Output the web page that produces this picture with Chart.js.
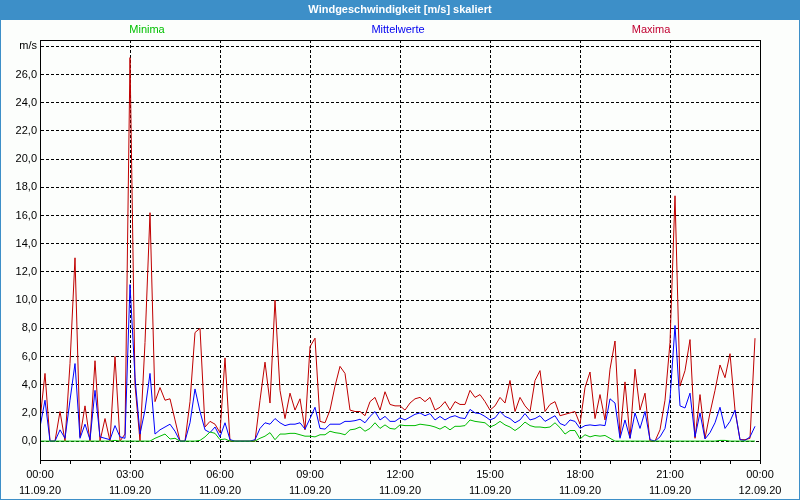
<!DOCTYPE html>
<html>
<head>
<meta charset="utf-8">
<script src="https://cdn.jsdelivr.net/npm/chart.js@4"></script>
<style>
    html, body { margin: 0; padding: 0; background: #fff; }
    #wrap { width: 800px; height: 500px; }
</style>
</head>
<body>
<div id="wrap"><canvas id="chart" width="800" height="500"></canvas></div>
<script>
// 10-minute values, 11.09.20 00:00 - 23:50
const stepMinutes = 10;

const minima = [
    0, 0, 0, 0, 0, 0, 0, 0, 0, 0,
    0, 0, 0, 0, 0, 0.05, 0, 0, 0, 0,
    0, 0, 0, 0.2, 0.35, 0.5, 0.15, 0.2, 0, 0,
    0, 0, 0.05, 0.3, 0.65, 0.55, 0.1, 0.15, 0, 0,
    0, 0, 0, 0, 0.2, 0.35, 0.6, 0.1, 0.5, 0.5,
    0.55, 0.55, 0.45, 0.35, 0.35, 0.3, 0.45, 0.45, 0.7, 0.6,
    0.55, 0.45, 0.8, 0.85, 1.0, 0.7, 0.9, 1.3, 0.9, 1.15,
    0.9, 0.85, 1.15, 1.1, 1.1, 1.1, 1.2, 1.15, 1.1, 1.0,
    0.85, 1.05, 0.8, 1.05, 1.05, 1.1, 1.5, 1.4, 1.35, 1.3,
    1.0, 1.15, 1.4, 1.15, 1.0, 0.75, 1.0, 1.35, 1.1, 1.0,
    1.0, 0.95, 1.0, 1.3, 0.95, 0.5, 0.75, 0.75, 0.15, 0.45,
    0.3, 0.4, 0.35, 0.4, 0.2, 0, 0, 0, 0, 0,
    0, 0, 0, 0, 0, 0, 0, 0, 0, 0,
    0, 0, 0, 0, 0, 0, 0.05, 0.05, 0, 0,
    0, 0, 0, 0
];

const mittelwerte = [
    1.0, 2.9, 0, 0, 0.8, 0.2, 2.9, 5.5, 0.2, 1.2,
    0.1, 3.6, 0.3, 0.2, 0.1, 1.1, 0.3, 0.2, 11.1, 4.5,
    0.5, 2.2, 4.8, 0.5, 0.8, 1.0, 1.2, 0.7, 0, 0,
    1.3, 3.7, 2.1, 0.8, 0.6, 1.0, 0.3, 1.3, 0.1, 0,
    0, 0, 0, 0.1, 0.9, 1.3, 1.2, 1.6, 1.3, 1.1,
    1.2, 1.2, 1.3, 0.85, 1.6, 2.4, 0.9, 0.85, 1.2, 1.2,
    1.2, 1.4, 1.4, 1.45, 1.55, 1.3, 1.75, 2.1, 1.5, 1.75,
    1.4, 1.4, 1.65, 1.5, 1.7, 1.9, 2.0, 1.8, 1.95, 1.5,
    1.75, 1.5, 1.7, 1.8, 1.65, 1.6, 2.25, 2.0, 1.95, 1.75,
    1.5, 1.65, 2.1, 1.75, 1.6, 1.3, 1.5, 1.95, 1.5, 1.6,
    1.8, 1.4, 1.6, 1.8, 1.25, 1.1, 1.5, 1.4, 0.9, 1.1,
    1.15, 1.1, 1.15, 1.1, 3.0, 2.7, 0.2, 1.5, 0.2, 2.0,
    0.9, 2.1, 0.1, 0, 0.3, 0.9, 3.0, 8.2, 2.5, 2.35,
    3.4, 0.3, 2.0, 0.15, 0.6, 1.3, 2.4, 0.9, 1.4, 2.2,
    0.1, 0.05, 0.3, 1.05
];

const maxima = [
    1.5, 4.8, 0, 0, 2.1, 0, 5.5, 13.0, 0.3, 2.5,
    0, 5.7, 0, 1.6, 0, 6.0, 0, 0.5, 27.2, 4.0,
    0, 7.0, 16.2, 2.8, 3.8, 2.9, 3.0, 1.5, 0, 0,
    2.8, 7.7, 8.0, 1.0, 1.4, 1.2, 0.6, 5.9, 0, 0,
    0, 0, 0, 0, 2.9, 5.6, 2.7, 10.0, 3.6, 1.6,
    3.4, 2.2, 3.0, 0.8, 6.7, 7.3, 1.4, 1.3, 2.2, 3.9,
    5.3, 4.8, 2.2, 2.1, 2.1, 1.8, 2.8, 3.1, 2.2, 3.5,
    2.6, 2.5, 2.5, 2.2, 2.7, 3.0, 3.1, 2.8, 3.1, 2.2,
    2.4, 2.8, 2.2, 2.8, 2.6, 2.6, 3.6, 3.1, 3.3, 2.8,
    2.2, 2.5, 3.1, 2.7, 4.3, 2.1, 3.1, 2.5, 2.1, 4.3,
    5.0, 2.1, 2.6, 2.8, 1.8, 1.9, 2.0, 2.1, 1.2, 3.8,
    4.9, 1.6, 3.3, 1.5, 5.1, 7.1, 0.3, 4.2, 0.2, 5.1,
    2.2, 3.4, 0, 0, 0.8, 2.9, 7.0, 17.4, 3.9, 5.0,
    7.2, 0.2, 3.3, 0.2, 2.0, 3.6, 5.4, 4.5, 6.2, 2.2,
    0.1, 0.1, 0.2, 7.3
];

const seriesNames = ['Minima', 'Mittelwerte', 'Maxima'];
const seriesColors = ['#00bc00', '#0000ff', '#c00000'];
const legendColors = ['#00c000', '#0000f0', '#c00030'];

const yTickValues = [0, 2, 4, 6, 8, 10, 12, 14, 16, 18, 20, 22, 24, 26, 28];
const xTickTimes = ['00:00', '03:00', '06:00', '09:00', '12:00', '15:00', '18:00', '21:00', '00:00'];
const xTickDates = ['11.09.20', '11.09.20', '11.09.20', '11.09.20', '11.09.20', '11.09.20', '11.09.20', '11.09.20', '12.09.20'];

const chartTitle = 'Windgeschwindigkeit [m/s] skaliert';
const unitLabel = 'm/s';

const fontFamily = '"Liberation Sans", Arial, sans-serif';

function toPoints(values) {
    return values.map((v, i) => ({ x: i * stepMinutes, y: v }));
}

const framePlugin = {
    id: 'frame',
    beforeDraw(chart) {
        const ctx = chart.ctx;
        ctx.save();
        ctx.fillStyle = '#fcfefc';
        ctx.fillRect(0, 0, chart.width, chart.height);
        // title bar
        ctx.fillStyle = '#3d8fc8';
        ctx.fillRect(0, 0, chart.width, 20);
        ctx.strokeStyle = '#3d8fc8';
        ctx.lineWidth = 1;
        ctx.strokeRect(0.5, 0.5, chart.width - 1, chart.height - 1);
        ctx.fillStyle = '#ffffff';
        ctx.font = 'bold 11px ' + fontFamily;
        ctx.textAlign = 'center';
        ctx.textBaseline = 'middle';
        ctx.fillText(chartTitle, chart.width / 2, 10);
        // series names
        const legendX = [147, 398, 651];
        ctx.font = '11px ' + fontFamily;
        seriesNames.forEach((name, i) => {
            ctx.fillStyle = legendColors[i];
            ctx.fillText(name, legendX[i], 30);
        });
        ctx.restore();
    },
    afterDraw(chart) {
        const ctx = chart.ctx;
        const a = chart.chartArea;
        ctx.save();
        ctx.strokeStyle = '#000';
        ctx.lineWidth = 1;
        ctx.strokeRect(Math.round(a.left) + 0.5, Math.round(a.top) + 0.5,
            Math.round(a.right - a.left), Math.round(a.bottom - a.top));
        ctx.restore();
    }
};

new Chart(document.getElementById('chart'), {
    type: 'line',
    data: {
        datasets: [
            { label: seriesNames[0], data: toPoints(minima), borderColor: seriesColors[0] },
            { label: seriesNames[1], data: toPoints(mittelwerte), borderColor: seriesColors[1] },
            { label: seriesNames[2], data: toPoints(maxima), borderColor: seriesColors[2] }
        ]
    },
    options: {
        responsive: false,
        animation: false,
        events: [],
        elements: {
            line: { borderWidth: 1, tension: 0 },
            point: { radius: 0 }
        },
        layout: { padding: { top: 40, right: 40, left: 0, bottom: 0 } },
        plugins: {
            legend: { display: false },
            tooltip: { enabled: false },
            title: { display: false }
        },
        scales: {
            x: {
                type: 'linear',
                min: 0,
                max: 1440,
                afterFit: scale => { scale.height = 40; },
                ticks: {
                    stepSize: 60,
                    autoSkip: false,
                    maxRotation: 0,
                    padding: 3,
                    color: '#000',
                    font: { family: fontFamily, size: 11, lineHeight: 1.45 },
                    callback: (value) => {
                        if (value % 180 !== 0) return '';
                        const k = value / 180;
                        return [xTickTimes[k], xTickDates[k]];
                    }
                },
                grid: {
                    color: c => (c.tick && c.tick.value % 180 === 0 && c.tick.value > 0 && c.tick.value < 1440) ? '#000' : 'rgba(0,0,0,0)',
                    tickColor: '#000',
                    tickLength: 4,
                    lineWidth: 1
                },
                border: { display: true, color: '#000', width: 1, dash: [3, 2] }
            },
            y: {
                type: 'linear',
                min: -1.34,
                max: 28.45,
                afterFit: scale => { scale.width = 40; },
                afterBuildTicks: scale => { scale.ticks = yTickValues.map(v => ({ value: v })); },
                ticks: {
                    padding: 3,
                    color: '#000',
                    font: { family: fontFamily, size: 11 },
                    callback: (value) => value === 28 ? unitLabel : value.toFixed(1).replace('.', ',')
                },
                grid: {
                    color: '#000',
                    drawTicks: false,
                    lineWidth: 1
                },
                border: { display: true, color: '#000', width: 1, dash: [3, 2] }
            }
        }
    },
    plugins: [framePlugin]
});
</script>
</body>
</html>
